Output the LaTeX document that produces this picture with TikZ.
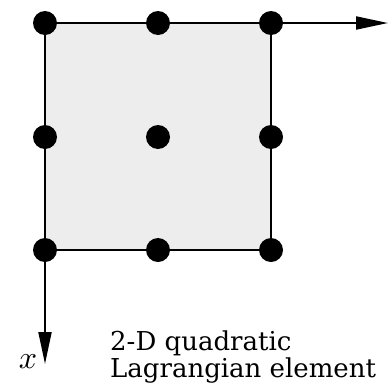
\documentclass[tikz,border=0pt]{standalone}
\usepackage{fontspec}
\newfontfamily\capfont{DejaVu Serif}
\usetikzlibrary{arrows.meta,backgrounds}
\begin{document}
\begin{tikzpicture}[x=1pt,y=-1pt,
  dot/.style={circle,fill=black,inner sep=0pt,minimum size=24pt},
  edge/.style={line width=2pt,black},
  axis/.style={line width=2pt,-{Triangle[length=32pt,width=13pt]}},
  lbl/.style={font=\capfont\fontsize{26}{26.7}\selectfont}]
\useasboundingbox (0,0) rectangle (388,386);
\node[dot] (a11) at (45,23) {};
\node[dot] (a12) at (158,23) {};
\node[dot] (a13) at (271,23) {};
\node[dot] (a21) at (45,137) {};
\node[dot] (a22) at (158,137) {};
\node[dot] (a23) at (271,137) {};
\node[dot] (a31) at (45,250) {};
\node[dot] (a32) at (158,250) {};
\node[dot] (a33) at (271,250) {};
\coordinate (ytip) at (388,23);
\coordinate (xtip) at (45,364);
\begin{scope}[on background layer]
\fill[gray!14] (a11.center) rectangle (a33.center);
\draw[edge] (a11.center) -- (a13.center) -- (a33.center) -- (a31.center) -- cycle;
\draw[axis] (a13.center) -- (ytip);
\draw[axis] (a31.center) -- (xtip);
\end{scope}
\node[scale=3.2,inner sep=0pt] (xl) at (28,362) {$x$};
\node[lbl,anchor=base west,align=left,inner sep=0pt] (cap) at (110,377) {2-D quadratic\\Lagrangian element};
\end{tikzpicture}
\end{document}
